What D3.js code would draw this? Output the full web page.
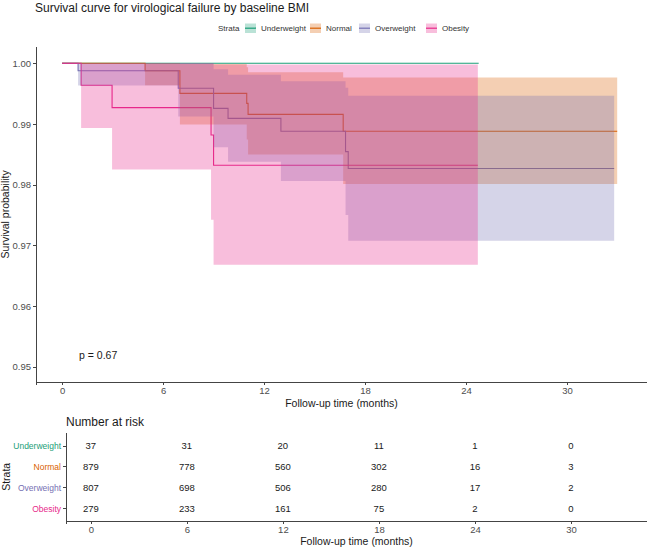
<!DOCTYPE html>
<head lang="en">
<meta charset="utf-8">
<title>Survival curve by baseline BMI</title>
<style>
body { margin: 0; background: #fff; }
* { font-family: "Liberation Sans", Arial, sans-serif; }
.axis path, .axis line { stroke: #444; stroke-width: 1px; shape-rendering: crispEdges; }
.axis text { fill: #4d4d4d; }
</style>
<script src="https://cdn.jsdelivr.net/npm/d3@7"></script>
</head>
<body>
<div id="chart"></div>
<script>
// Strata and Dark2 colours
var strata = ["Underweight", "Normal", "Overweight", "Obesity"];
var colors = ["#1B9E77", "#D95F02", "#7570B3", "#E7298A"];

// Kaplan-Meier steps (time in months)
var uwTime  = [0];
var uwSurv  = [1];
var uwUpper = [1];
var uwLower = [1];
var uwEnd   = 24.75;

var noTime  = [0, 4.93, 7.0, 10.97, 11.05, 16.7];
var noSurv  = [1, 0.99878, 0.99505, 0.99339, 0.99159, 0.98879];
var noUpper = [1, 1, 0.99989, 0.99936, 0.99853, 0.99767];
var noLower = [1, 0.99639, 0.98991, 0.98745, 0.98498, 0.98011];
var noEnd   = 32.98;

var owTime  = [0, 0.95, 6.9, 9.0, 9.86, 13.0, 16.84, 17.0];
var owSurv  = [1, 0.99876, 0.99588, 0.99258, 0.99093, 0.98879, 0.98544, 0.98266];
var owUpper = [1, 1, 1, 0.99902, 0.99813, 0.99705, 0.99599, 0.99466];
var owLower = [1, 0.99633, 0.99124, 0.98618, 0.98378, 0.98060, 0.97500, 0.97076];
var owEnd   = 32.8;

var obTime  = [0, 1.13, 2.97, 8.85, 9.0];
var obSurv  = [1, 0.99639, 0.99270, 0.98819, 0.98320];
var obUpper = [1, 1, 1, 1, 0.9998];
var obLower = [1, 0.98935, 0.98250, 0.97420, 0.96680];
var obEnd   = 24.7;

// Number at risk table
var riskTimes = [0, 6, 12, 18, 24, 30];
var riskUnderweight = [37, 31, 20, 11, 1, 0];
var riskNormal      = [879, 778, 560, 302, 16, 3];
var riskOverweight  = [807, 698, 506, 280, 17, 2];
var riskObesity     = [279, 233, 161, 75, 2, 0];

var yTicks = [0.95, 0.96, 0.97, 0.98, 0.99, 1.00];
var xTicks = [0, 6, 12, 18, 24, 30];
var pText = "p = 0.67";

function makeSeries(time, surv, upper, lower, end) {
    var pts = time.map(function(t, i) {
        return { t: t, s: surv[i], hi: upper[i], lo: lower[i] };
    });
    var last = pts[pts.length - 1];
    pts.push({ t: end, s: last.s, hi: last.hi, lo: last.lo });
    return pts;
}

var series = [
    makeSeries(uwTime, uwSurv, uwUpper, uwLower, uwEnd),
    makeSeries(noTime, noSurv, noUpper, noLower, noEnd),
    makeSeries(owTime, owSurv, owUpper, owLower, owEnd),
    makeSeries(obTime, obSurv, obUpper, obLower, obEnd)
];
var riskRows = [riskUnderweight, riskNormal, riskOverweight, riskObesity];

var W = 647, H = 548;
var svg = d3.select("#chart").append("svg")
    .attr("width", W)
    .attr("height", H);

// ---- main panel ----
var m = { left: 36, right: 647, top: 47, bottom: 381.7 };
var x = d3.scaleLinear().domain([-1.55, 34.75]).range([m.left, m.right]);
var y = d3.scaleLinear().domain([0.95, 1.0]).range([366.7, 63.3]);

svg.append("text")
    .attr("x", 35).attr("y", 11.5)
    .style("font-size", "12px")
    .style("fill", "#1a1a1a")
    .text("Survival curve for virological failure by baseline BMI");

// legend
var lg = svg.append("g").style("font-size", "8px");
lg.append("text").attr("x", 218).attr("y", 31).style("fill", "#333").text("Strata");
var legX = [245, 310, 359, 426];
strata.forEach(function(s, i) {
    lg.append("rect")
        .attr("x", legX[i]).attr("y", 23.5).attr("width", 11).attr("height", 9.5)
        .style("fill", colors[i]).style("fill-opacity", 0.3);
    lg.append("line")
        .attr("x1", legX[i]).attr("x2", legX[i] + 11)
        .attr("y1", 28.2).attr("y2", 28.2)
        .style("stroke", colors[i]).style("stroke-width", 1.2);
    lg.append("text").attr("x", legX[i] + 16).attr("y", 31)
        .style("fill", "#333").text(s);
});

var plot = svg.append("g");

var line = d3.line()
    .x(function(d) { return x(d.t); })
    .y(function(d) { return y(d.s); })
    .curve(d3.curveStepAfter);

var area = d3.area()
    .x(function(d) { return x(d.t); })
    .y0(function(d) { return y(d.lo); })
    .y1(function(d) { return y(d.hi); })
    .curve(d3.curveStepAfter);

// survival steps, then the confidence ribbons over them
plot.selectAll("path.surv")
    .data(series)
    .enter()
    .append("path")
        .attr("class", "surv")
        .attr("d", line)
        .style("fill", "none")
        .style("stroke", function(d, i) { return colors[i]; })
        .style("stroke-width", 1.1);

plot.selectAll("path.ci")
    .data(series)
    .enter()
    .append("path")
        .attr("class", "ci")
        .attr("d", area)
        .style("fill", function(d, i) { return colors[i]; })
        .style("fill-opacity", 0.3)
        .style("stroke", "none");

svg.append("g")
    .attr("class", "axis")
    .attr("transform", "translate(" + m.left + ",0)")
    .call(d3.axisLeft(y).tickValues(yTicks).tickFormat(d3.format(".2f"))
        .tickSizeOuter(0).tickSize(3).tickPadding(2))
    .call(function(g) { g.select(".domain").attr("d", "M0," + m.top + "V" + m.bottom); })
    .selectAll("text").style("font-size", "9.5px");

svg.append("g")
    .attr("class", "axis")
    .attr("transform", "translate(0," + m.bottom + ")")
    .call(d3.axisBottom(x).tickValues(xTicks).tickFormat(d3.format("d"))
        .tickSizeOuter(0).tickSize(3).tickPadding(3))
    .selectAll("text").style("font-size", "9.5px");

svg.append("text")
    .attr("transform", "translate(9," + ((m.top + m.bottom) / 2) + ") rotate(-90)")
    .attr("text-anchor", "middle")
    .style("font-size", "10.5px").style("fill", "#1a1a1a")
    .text("Survival probability");

svg.append("text")
    .attr("x", (m.left + m.right) / 2).attr("y", 407)
    .attr("text-anchor", "middle")
    .style("font-size", "10.5px").style("fill", "#1a1a1a")
    .text("Follow-up time (months)");

svg.append("text")
    .attr("x", 79).attr("y", 359)
    .style("font-size", "10.5px").style("fill", "#1a1a1a")
    .text(pText);

// ---- risk table ----
var t = { left: 66, right: 647, top: 433, bottom: 520.7 };
var xt = d3.scaleLinear().domain([-1.55, 34.75]).range([t.left, t.right]);
var yt = d3.scalePoint().domain(strata).range([445.5, 508.3]);

svg.append("text")
    .attr("x", 66).attr("y", 426)
    .style("font-size", "12px").style("fill", "#1a1a1a")
    .text("Number at risk");

riskRows.forEach(function(row, r) {
    svg.append("g").selectAll("text")
        .data(row)
        .enter()
        .append("text")
            .attr("x", function(d, i) { return xt(riskTimes[i]); })
            .attr("y", yt(strata[r]))
            .attr("dy", "0.35em")
            .attr("text-anchor", "middle")
            .style("font-size", "9.5px").style("fill", "#1a1a1a")
            .text(function(d) { return d; });
});

var yAx = svg.append("g")
    .attr("class", "axis")
    .attr("transform", "translate(" + t.left + ",0)")
    .call(d3.axisLeft(yt).tickSizeOuter(0).tickSize(3).tickPadding(2))
    .call(function(g) { g.select(".domain").attr("d", "M0," + t.top + "V" + t.bottom); });
yAx.selectAll("text")
    .style("font-size", "8.5px")
    .style("fill", function(d, i) { return colors[i]; });

svg.append("g")
    .attr("class", "axis")
    .attr("transform", "translate(0," + t.bottom + ")")
    .call(d3.axisBottom(xt).tickValues(xTicks).tickFormat(d3.format("d"))
        .tickSizeOuter(0).tickSize(3).tickPadding(3))
    .selectAll("text").style("font-size", "9.5px");

svg.append("text")
    .attr("transform", "translate(10," + ((t.top + t.bottom) / 2) + ") rotate(-90)")
    .attr("text-anchor", "middle")
    .style("font-size", "10.5px").style("fill", "#1a1a1a")
    .text("Strata");

svg.append("text")
    .attr("x", (t.left + t.right) / 2).attr("y", 545)
    .attr("text-anchor", "middle")
    .style("font-size", "10.5px").style("fill", "#1a1a1a")
    .text("Follow-up time (months)");
</script>
</body>
</html>
